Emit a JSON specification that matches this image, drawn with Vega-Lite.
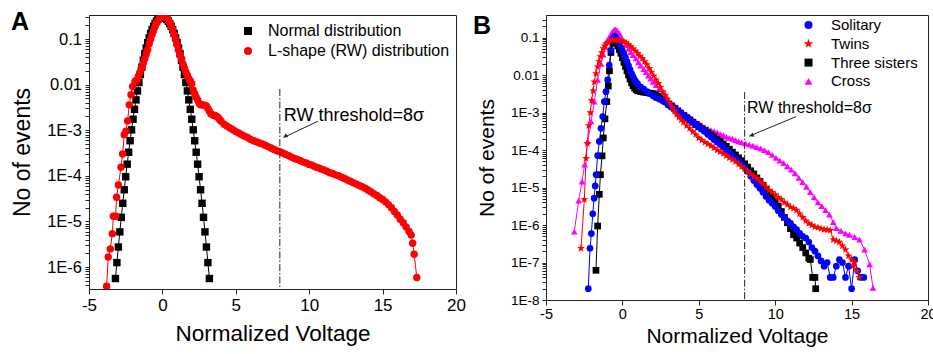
{
  "$schema": "https://vega.github.io/schema/vega-lite/v6.json",
  "background": "white",
  "padding": {"left": 10, "top": 8, "right": 0, "bottom": 0},
  "spacing": 6,
  "resolve": {"scale": {"color": "independent", "shape": "independent"}, "legend": {"color": "independent", "shape": "independent"}},
  "config": {
    "font": "Liberation Sans",
    "view": {"stroke": "#222", "strokeWidth": 1},
    "axis": {"domainColor": "#222", "tickColor": "#222", "labelColor": "black", "titleColor": "black", "titleFontWeight": "normal", "grid": false, "labelFont": "Liberation Sans", "titleFont": "Liberation Sans"},
    "legend": {"labelFont": "Liberation Sans", "labelColor": "black"},
    "text": {"font": "Liberation Sans"}
  },
  "datasets": {
    "a": [
      {"s":"Normal distribution","x":-3.2,"y":5.6e-7},{"s":"Normal distribution","x":-3.1,"y":1.25e-6},{"s":"Normal distribution","x":-3.0,"y":2.75e-6},{"s":"Normal distribution","x":-2.9,"y":5.9e-6},{"s":"Normal distribution","x":-2.8,"y":1.23e-5},{"s":"Normal distribution","x":-2.7,"y":2.5e-5},{"s":"Normal distribution","x":-2.6,"y":4.95e-5},{"s":"Normal distribution","x":-2.5,"y":9.55e-5},{"s":"Normal distribution","x":-2.4,"y":1.8e-4},{"s":"Normal distribution","x":-2.3,"y":3.29e-4},{"s":"Normal distribution","x":-2.2,"y":5.88e-4},{"s":"Normal distribution","x":-2.1,"y":1.02e-3},{"s":"Normal distribution","x":-2.0,"y":1.74e-3},{"s":"Normal distribution","x":-1.9,"y":2.87e-3},{"s":"Normal distribution","x":-1.8,"y":4.63e-3},{"s":"Normal distribution","x":-1.7,"y":7.27e-3},{"s":"Normal distribution","x":-1.6,"y":0.0111},{"s":"Normal distribution","x":-1.5,"y":0.0166},{"s":"Normal distribution","x":-1.4,"y":0.0241},{"s":"Normal distribution","x":-1.3,"y":0.0342},{"s":"Normal distribution","x":-1.2,"y":0.0472},{"s":"Normal distribution","x":-1.1,"y":0.0634},{"s":"Normal distribution","x":-1.0,"y":0.0832},{"s":"Normal distribution","x":-0.9,"y":0.106},{"s":"Normal distribution","x":-0.8,"y":0.132},{"s":"Normal distribution","x":-0.7,"y":0.161},{"s":"Normal distribution","x":-0.6,"y":0.19},{"s":"Normal distribution","x":-0.5,"y":0.219},{"s":"Normal distribution","x":-0.4,"y":0.246},{"s":"Normal distribution","x":-0.3,"y":0.269},{"s":"Normal distribution","x":-0.2,"y":0.287},{"s":"Normal distribution","x":-0.1,"y":0.298},{"s":"Normal distribution","x":0,"y":0.302},{"s":"Normal distribution","x":0.1,"y":0.298},{"s":"Normal distribution","x":0.2,"y":0.287},{"s":"Normal distribution","x":0.3,"y":0.269},{"s":"Normal distribution","x":0.4,"y":0.246},{"s":"Normal distribution","x":0.5,"y":0.219},{"s":"Normal distribution","x":0.6,"y":0.19},{"s":"Normal distribution","x":0.7,"y":0.161},{"s":"Normal distribution","x":0.8,"y":0.132},{"s":"Normal distribution","x":0.9,"y":0.106},{"s":"Normal distribution","x":1.0,"y":0.0832},{"s":"Normal distribution","x":1.1,"y":0.0634},{"s":"Normal distribution","x":1.2,"y":0.0472},{"s":"Normal distribution","x":1.3,"y":0.0342},{"s":"Normal distribution","x":1.4,"y":0.0241},{"s":"Normal distribution","x":1.5,"y":0.0166},{"s":"Normal distribution","x":1.6,"y":0.0111},{"s":"Normal distribution","x":1.7,"y":7.27e-3},{"s":"Normal distribution","x":1.8,"y":4.63e-3},{"s":"Normal distribution","x":1.9,"y":2.87e-3},{"s":"Normal distribution","x":2.0,"y":1.74e-3},{"s":"Normal distribution","x":2.1,"y":1.02e-3},{"s":"Normal distribution","x":2.2,"y":5.88e-4},{"s":"Normal distribution","x":2.3,"y":3.29e-4},{"s":"Normal distribution","x":2.4,"y":1.8e-4},{"s":"Normal distribution","x":2.5,"y":9.55e-5},{"s":"Normal distribution","x":2.6,"y":4.95e-5},{"s":"Normal distribution","x":2.7,"y":2.5e-5},{"s":"Normal distribution","x":2.8,"y":1.23e-5},{"s":"Normal distribution","x":2.9,"y":5.9e-6},{"s":"Normal distribution","x":3.0,"y":2.75e-6},{"s":"Normal distribution","x":3.1,"y":1.25e-6},{"s":"Normal distribution","x":3.2,"y":5.6e-7},
      {"s":"L-shape (RW) distribution","x":-3.8,"y":3.8e-7},{"s":"L-shape (RW) distribution","x":-3.69,"y":1.66e-6},{"s":"L-shape (RW) distribution","x":-3.55,"y":2.5e-6},{"s":"L-shape (RW) distribution","x":-3.41,"y":5.4e-6},{"s":"L-shape (RW) distribution","x":-3.34,"y":1.3e-5},{"s":"L-shape (RW) distribution","x":-3.19,"y":1.3e-5},{"s":"L-shape (RW) distribution","x":-3.12,"y":3.4e-5},{"s":"L-shape (RW) distribution","x":-3.0,"y":6.3e-5},{"s":"L-shape (RW) distribution","x":-2.82,"y":1.55e-4},{"s":"L-shape (RW) distribution","x":-2.71,"y":3.0e-4},{"s":"L-shape (RW) distribution","x":-2.6,"y":8.0e-4},{"s":"L-shape (RW) distribution","x":-2.48,"y":9.5e-4},{"s":"L-shape (RW) distribution","x":-2.37,"y":1.6e-3},{"s":"L-shape (RW) distribution","x":-2.26,"y":3.6e-3},{"s":"L-shape (RW) distribution","x":-2.14,"y":6.0e-3},{"s":"L-shape (RW) distribution","x":-2.03,"y":9.1e-3},{"s":"L-shape (RW) distribution","x":-1.87,"y":0.0118},{"s":"L-shape (RW) distribution","x":-1.75,"y":0.0125},{"s":"L-shape (RW) distribution","x":-1.64,"y":0.015},{"s":"L-shape (RW) distribution","x":-1.55,"y":0.018},{"s":"L-shape (RW) distribution","x":-1.46,"y":0.0214},{"s":"L-shape (RW) distribution","x":-1.38,"y":0.025},{"s":"L-shape (RW) distribution","x":-1.3,"y":0.0297},{"s":"L-shape (RW) distribution","x":-1.2,"y":0.037},{"s":"L-shape (RW) distribution","x":-1.1,"y":0.047},{"s":"L-shape (RW) distribution","x":-1.0,"y":0.058},{"s":"L-shape (RW) distribution","x":-0.9,"y":0.079},{"s":"L-shape (RW) distribution","x":-0.8,"y":0.099},{"s":"L-shape (RW) distribution","x":-0.7,"y":0.125},{"s":"L-shape (RW) distribution","x":-0.6,"y":0.152},{"s":"L-shape (RW) distribution","x":-0.5,"y":0.19},{"s":"L-shape (RW) distribution","x":-0.4,"y":0.225},{"s":"L-shape (RW) distribution","x":-0.3,"y":0.255},{"s":"L-shape (RW) distribution","x":-0.2,"y":0.283},{"s":"L-shape (RW) distribution","x":-0.1,"y":0.3},{"s":"L-shape (RW) distribution","x":0,"y":0.315},{"s":"L-shape (RW) distribution","x":0.1,"y":0.315},{"s":"L-shape (RW) distribution","x":0.2,"y":0.3},{"s":"L-shape (RW) distribution","x":0.3,"y":0.28},{"s":"L-shape (RW) distribution","x":0.4,"y":0.255},{"s":"L-shape (RW) distribution","x":0.5,"y":0.225},{"s":"L-shape (RW) distribution","x":0.6,"y":0.19},{"s":"L-shape (RW) distribution","x":0.7,"y":0.16},{"s":"L-shape (RW) distribution","x":0.8,"y":0.125},{"s":"L-shape (RW) distribution","x":0.9,"y":0.098},{"s":"L-shape (RW) distribution","x":1.0,"y":0.075},{"s":"L-shape (RW) distribution","x":1.1,"y":0.057},{"s":"L-shape (RW) distribution","x":1.2,"y":0.045},{"s":"L-shape (RW) distribution","x":1.3,"y":0.035},{"s":"L-shape (RW) distribution","x":1.4,"y":0.028},{"s":"L-shape (RW) distribution","x":1.5,"y":0.023},{"s":"L-shape (RW) distribution","x":1.6,"y":0.019},{"s":"L-shape (RW) distribution","x":1.7,"y":0.016},{"s":"L-shape (RW) distribution","x":1.8,"y":0.0135},{"s":"L-shape (RW) distribution","x":1.9,"y":0.012},{"s":"L-shape (RW) distribution","x":2.0,"y":0.0105},{"s":"L-shape (RW) distribution","x":2.1,"y":0.0075},{"s":"L-shape (RW) distribution","x":2.2,"y":0.0063},{"s":"L-shape (RW) distribution","x":2.3,"y":0.0053},{"s":"L-shape (RW) distribution","x":2.4,"y":0.0046},{"s":"L-shape (RW) distribution","x":2.5,"y":0.0039},{"s":"L-shape (RW) distribution","x":2.6,"y":0.0036},{"s":"L-shape (RW) distribution","x":2.7,"y":0.0036},{"s":"L-shape (RW) distribution","x":2.8,"y":0.0036},{"s":"L-shape (RW) distribution","x":2.9,"y":0.0035},{"s":"L-shape (RW) distribution","x":3.0,"y":0.0034},{"s":"L-shape (RW) distribution","x":3.1,"y":0.003},{"s":"L-shape (RW) distribution","x":3.2,"y":0.0026},{"s":"L-shape (RW) distribution","x":3.3,"y":0.0023},{"s":"L-shape (RW) distribution","x":3.4,"y":0.0022},{"s":"L-shape (RW) distribution","x":3.5,"y":0.0021},{"s":"L-shape (RW) distribution","x":3.6,"y":0.0021},{"s":"L-shape (RW) distribution","x":3.7,"y":0.002},{"s":"L-shape (RW) distribution","x":3.8,"y":0.0019},{"s":"L-shape (RW) distribution","x":3.9,"y":0.0017},{"s":"L-shape (RW) distribution","x":4.0,"y":0.00158},{"s":"L-shape (RW) distribution","x":4.2,"y":0.00135},{"s":"L-shape (RW) distribution","x":4.4,"y":0.00123},{"s":"L-shape (RW) distribution","x":4.6,"y":0.00112},{"s":"L-shape (RW) distribution","x":4.8,"y":0.00102},{"s":"L-shape (RW) distribution","x":5.0,"y":9.33e-4},{"s":"L-shape (RW) distribution","x":5.2,"y":8.71e-4},{"s":"L-shape (RW) distribution","x":5.4,"y":7.94e-4},{"s":"L-shape (RW) distribution","x":5.6,"y":7.41e-4},{"s":"L-shape (RW) distribution","x":5.8,"y":6.92e-4},{"s":"L-shape (RW) distribution","x":6.0,"y":6.31e-4},{"s":"L-shape (RW) distribution","x":6.2,"y":5.89e-4},{"s":"L-shape (RW) distribution","x":6.4,"y":5.62e-4},{"s":"L-shape (RW) distribution","x":6.6,"y":5.25e-4},{"s":"L-shape (RW) distribution","x":6.8,"y":5.01e-4},{"s":"L-shape (RW) distribution","x":7.0,"y":4.68e-4},{"s":"L-shape (RW) distribution","x":7.2,"y":4.37e-4},{"s":"L-shape (RW) distribution","x":7.4,"y":4.07e-4},{"s":"L-shape (RW) distribution","x":7.6,"y":3.8e-4},{"s":"L-shape (RW) distribution","x":7.8,"y":3.55e-4},{"s":"L-shape (RW) distribution","x":8.0,"y":3.39e-4},{"s":"L-shape (RW) distribution","x":8.2,"y":3.16e-4},{"s":"L-shape (RW) distribution","x":8.4,"y":2.95e-4},{"s":"L-shape (RW) distribution","x":8.6,"y":2.75e-4},{"s":"L-shape (RW) distribution","x":8.8,"y":2.57e-4},{"s":"L-shape (RW) distribution","x":9.0,"y":2.4e-4},{"s":"L-shape (RW) distribution","x":9.2,"y":2.29e-4},{"s":"L-shape (RW) distribution","x":9.4,"y":2.14e-4},{"s":"L-shape (RW) distribution","x":9.6,"y":2.0e-4},{"s":"L-shape (RW) distribution","x":9.8,"y":1.91e-4},{"s":"L-shape (RW) distribution","x":10.0,"y":1.78e-4},{"s":"L-shape (RW) distribution","x":10.2,"y":1.7e-4},{"s":"L-shape (RW) distribution","x":10.4,"y":1.58e-4},{"s":"L-shape (RW) distribution","x":10.6,"y":1.51e-4},{"s":"L-shape (RW) distribution","x":10.8,"y":1.41e-4},{"s":"L-shape (RW) distribution","x":11.0,"y":1.35e-4},{"s":"L-shape (RW) distribution","x":11.2,"y":1.26e-4},{"s":"L-shape (RW) distribution","x":11.4,"y":1.17e-4},{"s":"L-shape (RW) distribution","x":11.6,"y":1.12e-4},{"s":"L-shape (RW) distribution","x":11.8,"y":1.05e-4},{"s":"L-shape (RW) distribution","x":12.0,"y":1.0e-4},{"s":"L-shape (RW) distribution","x":12.2,"y":9.33e-5},{"s":"L-shape (RW) distribution","x":12.4,"y":8.71e-5},{"s":"L-shape (RW) distribution","x":12.6,"y":8.13e-5},{"s":"L-shape (RW) distribution","x":12.8,"y":7.59e-5},{"s":"L-shape (RW) distribution","x":13.0,"y":7.08e-5},{"s":"L-shape (RW) distribution","x":13.2,"y":6.61e-5},{"s":"L-shape (RW) distribution","x":13.4,"y":6.17e-5},{"s":"L-shape (RW) distribution","x":13.6,"y":5.75e-5},{"s":"L-shape (RW) distribution","x":13.8,"y":5.37e-5},{"s":"L-shape (RW) distribution","x":14.0,"y":4.9e-5},{"s":"L-shape (RW) distribution","x":14.2,"y":4.47e-5},{"s":"L-shape (RW) distribution","x":14.4,"y":4.07e-5},{"s":"L-shape (RW) distribution","x":14.6,"y":3.72e-5},{"s":"L-shape (RW) distribution","x":14.8,"y":3.31e-5},{"s":"L-shape (RW) distribution","x":15.0,"y":3.02e-5},{"s":"L-shape (RW) distribution","x":15.2,"y":2.69e-5},{"s":"L-shape (RW) distribution","x":15.4,"y":2.34e-5},{"s":"L-shape (RW) distribution","x":15.6,"y":2.0e-5},{"s":"L-shape (RW) distribution","x":15.8,"y":1.66e-5},{"s":"L-shape (RW) distribution","x":16.0,"y":1.38e-5},{"s":"L-shape (RW) distribution","x":16.2,"y":1.12e-5},{"s":"L-shape (RW) distribution","x":16.4,"y":9.33e-6},{"s":"L-shape (RW) distribution","x":16.6,"y":7.59e-6},{"s":"L-shape (RW) distribution","x":16.8,"y":6.03e-6},{"s":"L-shape (RW) distribution","x":16.95,"y":5.01e-6},{"s":"L-shape (RW) distribution","x":17.05,"y":3.31e-6},{"s":"L-shape (RW) distribution","x":17.15,"y":1.91e-6},{"s":"L-shape (RW) distribution","x":17.33,"y":5.89e-7}
    ],
    "b": [
      {"s":"Cross","x":-3.15,"y":6.7e-7},{"s":"Cross","x":-2.86,"y":4.5e-6},{"s":"Cross","x":-2.64,"y":1.45e-5},{"s":"Cross","x":-2.47,"y":4.1e-5},{"s":"Cross","x":-2.27,"y":1.7e-4},{"s":"Cross","x":-2.05,"y":5.8e-4},{"s":"Cross","x":-1.84,"y":1.95e-3},{"s":"Cross","x":-1.62,"y":7.4e-3},{"s":"Cross","x":-1.4,"y":0.02},{"s":"Cross","x":-1.25,"y":0.035},{"s":"Cross","x":-1.12,"y":0.057},{"s":"Cross","x":-1.0,"y":0.078},{"s":"Cross","x":-0.85,"y":0.105},{"s":"Cross","x":-0.7,"y":0.135},{"s":"Cross","x":-0.55,"y":0.16},{"s":"Cross","x":-0.45,"y":0.165},{"s":"Cross","x":-0.35,"y":0.155},{"s":"Cross","x":-0.2,"y":0.13},{"s":"Cross","x":-0.05,"y":0.1},{"s":"Cross","x":0.1,"y":0.08},{"s":"Cross","x":0.24,"y":0.063},{"s":"Cross","x":0.4,"y":0.05},{"s":"Cross","x":0.55,"y":0.041},{"s":"Cross","x":0.7,"y":0.034},{"s":"Cross","x":0.89,"y":0.028},{"s":"Cross","x":1.05,"y":0.022},{"s":"Cross","x":1.2,"y":0.018},{"s":"Cross","x":1.4,"y":0.0145},{"s":"Cross","x":1.55,"y":0.012},{"s":"Cross","x":1.7,"y":0.0097},{"s":"Cross","x":1.85,"y":0.008},{"s":"Cross","x":2.0,"y":0.0066},{"s":"Cross","x":2.2,"y":0.0054},{"s":"Cross","x":2.4,"y":0.0043},{"s":"Cross","x":2.6,"y":0.0034},{"s":"Cross","x":2.86,"y":0.0025},{"s":"Cross","x":3.0,"y":0.0021},{"s":"Cross","x":3.2,"y":0.0018},{"s":"Cross","x":3.4,"y":0.0016},{"s":"Cross","x":3.6,"y":0.0014},{"s":"Cross","x":3.8,"y":0.0012},{"s":"Cross","x":3.95,"y":0.00105},{"s":"Cross","x":4.2,"y":9e-4},{"s":"Cross","x":4.4,"y":7.8e-4},{"s":"Cross","x":4.6,"y":6.8e-4},{"s":"Cross","x":4.8,"y":5.9e-4},{"s":"Cross","x":5.04,"y":5.1e-4},{"s":"Cross","x":5.2,"y":4.6e-4},{"s":"Cross","x":5.4,"y":4.1e-4},{"s":"Cross","x":5.6,"y":3.7e-4},{"s":"Cross","x":5.8,"y":3.4e-4},{"s":"Cross","x":6.0,"y":3.2e-4},{"s":"Cross","x":6.2,"y":2.95e-4},{"s":"Cross","x":6.4,"y":2.7e-4},{"s":"Cross","x":6.6,"y":2.5e-4},{"s":"Cross","x":6.8,"y":2.25e-4},{"s":"Cross","x":7.0,"y":2.1e-4},{"s":"Cross","x":7.2,"y":2.0e-4},{"s":"Cross","x":7.4,"y":1.85e-4},{"s":"Cross","x":7.6,"y":1.7e-4},{"s":"Cross","x":7.8,"y":1.6e-4},{"s":"Cross","x":8.05,"y":1.5e-4},{"s":"Cross","x":8.3,"y":1.4e-4},{"s":"Cross","x":8.55,"y":1.3e-4},{"s":"Cross","x":8.8,"y":1.2e-4},{"s":"Cross","x":9.05,"y":1.1e-4},{"s":"Cross","x":9.3,"y":1.0e-4},{"s":"Cross","x":9.55,"y":8.8e-5},{"s":"Cross","x":9.8,"y":7.4e-5},{"s":"Cross","x":10.05,"y":6.2e-5},{"s":"Cross","x":10.3,"y":5.2e-5},{"s":"Cross","x":10.55,"y":4.5e-5},{"s":"Cross","x":10.8,"y":3.7e-5},{"s":"Cross","x":11.05,"y":3.0e-5},{"s":"Cross","x":11.3,"y":2.4e-5},{"s":"Cross","x":11.55,"y":1.8e-5},{"s":"Cross","x":11.8,"y":1.4e-5},{"s":"Cross","x":12.05,"y":1.05e-5},{"s":"Cross","x":12.3,"y":7.5e-6},{"s":"Cross","x":12.55,"y":5.5e-6},{"s":"Cross","x":12.8,"y":4.0e-6},{"s":"Cross","x":13.05,"y":3.2e-6},{"s":"Cross","x":13.3,"y":2.5e-6},{"s":"Cross","x":13.55,"y":1.9e-6},{"s":"Cross","x":13.8,"y":1.2e-6},{"s":"Cross","x":14.0,"y":8.3e-7},{"s":"Cross","x":14.3,"y":7.0e-7},{"s":"Cross","x":14.6,"y":6.0e-7},{"s":"Cross","x":14.86,"y":5.5e-7},{"s":"Cross","x":15.2,"y":4.8e-7},{"s":"Cross","x":15.52,"y":4.1e-7},{"s":"Cross","x":15.85,"y":2.2e-7},{"s":"Cross","x":16.18,"y":8.9e-8},{"s":"Cross","x":16.4,"y":2.1e-8},
      {"s":"Three sisters","x":-1.73,"y":6.2e-8},{"s":"Three sisters","x":-1.62,"y":9.4e-7},{"s":"Three sisters","x":-1.51,"y":6.6e-6},{"s":"Three sisters","x":-1.44,"y":2.2e-5},{"s":"Three sisters","x":-1.33,"y":7.0e-5},{"s":"Three sisters","x":-1.25,"y":2.1e-4},{"s":"Three sisters","x":-1.14,"y":6.8e-4},{"s":"Three sisters","x":-1.02,"y":1.95e-3},{"s":"Three sisters","x":-0.92,"y":5.1e-3},{"s":"Three sisters","x":-0.85,"y":0.013},{"s":"Three sisters","x":-0.75,"y":0.04},{"s":"Three sisters","x":-0.62,"y":0.07},{"s":"Three sisters","x":-0.5,"y":0.08},{"s":"Three sisters","x":-0.4,"y":0.072},{"s":"Three sisters","x":-0.3,"y":0.06},{"s":"Three sisters","x":-0.2,"y":0.048},{"s":"Three sisters","x":-0.1,"y":0.038},{"s":"Three sisters","x":0.0,"y":0.029},{"s":"Three sisters","x":0.1,"y":0.022},{"s":"Three sisters","x":0.2,"y":0.017},{"s":"Three sisters","x":0.3,"y":0.013},{"s":"Three sisters","x":0.4,"y":0.01},{"s":"Three sisters","x":0.5,"y":0.0078},{"s":"Three sisters","x":0.6,"y":0.0062},{"s":"Three sisters","x":0.7,"y":0.0052},{"s":"Three sisters","x":0.8,"y":0.0045},{"s":"Three sisters","x":0.9,"y":0.0041},{"s":"Three sisters","x":1.0,"y":0.0038},{"s":"Three sisters","x":1.2,"y":0.0036},{"s":"Three sisters","x":1.4,"y":0.0035},{"s":"Three sisters","x":1.6,"y":0.0034},{"s":"Three sisters","x":1.8,"y":0.0033},{"s":"Three sisters","x":2.0,"y":0.0032},{"s":"Three sisters","x":2.2,"y":0.003},{"s":"Three sisters","x":2.4,"y":0.0027},{"s":"Three sisters","x":2.6,"y":0.0023},{"s":"Three sisters","x":2.8,"y":0.002},{"s":"Three sisters","x":3.0,"y":0.0017},{"s":"Three sisters","x":3.2,"y":0.0015},{"s":"Three sisters","x":3.4,"y":0.0013},{"s":"Three sisters","x":3.6,"y":0.0011},{"s":"Three sisters","x":3.8,"y":9.5e-4},{"s":"Three sisters","x":4.0,"y":8.3e-4},{"s":"Three sisters","x":4.2,"y":7.2e-4},{"s":"Three sisters","x":4.4,"y":6.3e-4},{"s":"Three sisters","x":4.6,"y":5.5e-4},{"s":"Three sisters","x":4.8,"y":4.8e-4},{"s":"Three sisters","x":5.0,"y":4.2e-4},{"s":"Three sisters","x":5.2,"y":3.7e-4},{"s":"Three sisters","x":5.4,"y":3.3e-4},{"s":"Three sisters","x":5.6,"y":2.9e-4},{"s":"Three sisters","x":5.8,"y":2.55e-4},{"s":"Three sisters","x":6.0,"y":2.25e-4},{"s":"Three sisters","x":6.2,"y":1.95e-4},{"s":"Three sisters","x":6.4,"y":1.7e-4},{"s":"Three sisters","x":6.6,"y":1.45e-4},{"s":"Three sisters","x":6.8,"y":1.25e-4},{"s":"Three sisters","x":7.0,"y":1.05e-4},{"s":"Three sisters","x":7.2,"y":8.8e-5},{"s":"Three sisters","x":7.4,"y":7.4e-5},{"s":"Three sisters","x":7.6,"y":6.2e-5},{"s":"Three sisters","x":7.8,"y":5.2e-5},{"s":"Three sisters","x":8.0,"y":4.3e-5},{"s":"Three sisters","x":8.2,"y":3.5e-5},{"s":"Three sisters","x":8.4,"y":2.8e-5},{"s":"Three sisters","x":8.6,"y":2.3e-5},{"s":"Three sisters","x":8.8,"y":1.8e-5},{"s":"Three sisters","x":9.0,"y":1.45e-5},{"s":"Three sisters","x":9.2,"y":1.15e-5},{"s":"Three sisters","x":9.4,"y":9.0e-6},{"s":"Three sisters","x":9.6,"y":7.0e-6},{"s":"Three sisters","x":9.8,"y":5.5e-6},{"s":"Three sisters","x":10.0,"y":4.2e-6},{"s":"Three sisters","x":10.2,"y":3.2e-6},{"s":"Three sisters","x":10.4,"y":2.3e-6},{"s":"Three sisters","x":10.6,"y":1.6e-6},{"s":"Three sisters","x":10.8,"y":1.15e-6},{"s":"Three sisters","x":11.0,"y":8.0e-7},{"s":"Three sisters","x":11.2,"y":5.5e-7},{"s":"Three sisters","x":11.4,"y":4.5e-7},{"s":"Three sisters","x":11.6,"y":3.3e-7},{"s":"Three sisters","x":11.8,"y":2.5e-7},{"s":"Three sisters","x":12.0,"y":1.8e-7},{"s":"Three sisters","x":12.2,"y":1.3e-7},{"s":"Three sisters","x":12.3,"y":1.2e-7},{"s":"Three sisters","x":12.45,"y":4.0e-8},{"s":"Three sisters","x":12.6,"y":4.0e-8},{"s":"Three sisters","x":12.65,"y":2.0e-8},
      {"s":"Solitary","x":-2.23,"y":2.0e-8},{"s":"Solitary","x":-2.12,"y":2.4e-7},{"s":"Solitary","x":-2.03,"y":5.9e-7},{"s":"Solitary","x":-1.94,"y":2.0e-6},{"s":"Solitary","x":-1.85,"y":5.2e-6},{"s":"Solitary","x":-1.78,"y":1.1e-5},{"s":"Solitary","x":-1.72,"y":2.2e-5},{"s":"Solitary","x":-1.62,"y":7.1e-5},{"s":"Solitary","x":-1.51,"y":1.7e-4},{"s":"Solitary","x":-1.4,"y":3.8e-4},{"s":"Solitary","x":-1.29,"y":7.8e-4},{"s":"Solitary","x":-1.18,"y":1.95e-3},{"s":"Solitary","x":-1.07,"y":3.6e-3},{"s":"Solitary","x":-0.96,"y":7.4e-3},{"s":"Solitary","x":-0.86,"y":0.0185},{"s":"Solitary","x":-0.75,"y":0.046},{"s":"Solitary","x":-0.64,"y":0.094},{"s":"Solitary","x":-0.5,"y":0.11},{"s":"Solitary","x":-0.4,"y":0.1},{"s":"Solitary","x":-0.3,"y":0.085},{"s":"Solitary","x":-0.2,"y":0.07},{"s":"Solitary","x":-0.1,"y":0.055},{"s":"Solitary","x":0.0,"y":0.045},{"s":"Solitary","x":0.1,"y":0.036},{"s":"Solitary","x":0.2,"y":0.029},{"s":"Solitary","x":0.3,"y":0.023},{"s":"Solitary","x":0.4,"y":0.018},{"s":"Solitary","x":0.5,"y":0.014},{"s":"Solitary","x":0.6,"y":0.011},{"s":"Solitary","x":0.7,"y":0.009},{"s":"Solitary","x":0.8,"y":0.0075},{"s":"Solitary","x":0.9,"y":0.0065},{"s":"Solitary","x":1.0,"y":0.0058},{"s":"Solitary","x":1.2,"y":0.0048},{"s":"Solitary","x":1.4,"y":0.0042},{"s":"Solitary","x":1.6,"y":0.0036},{"s":"Solitary","x":1.8,"y":0.0032},{"s":"Solitary","x":2.0,"y":0.0028},{"s":"Solitary","x":2.2,"y":0.0025},{"s":"Solitary","x":2.4,"y":0.0023},{"s":"Solitary","x":2.6,"y":0.0021},{"s":"Solitary","x":2.8,"y":0.0019},{"s":"Solitary","x":3.0,"y":0.0016},{"s":"Solitary","x":3.2,"y":0.0014},{"s":"Solitary","x":3.4,"y":0.00125},{"s":"Solitary","x":3.6,"y":0.0011},{"s":"Solitary","x":3.8,"y":9.6e-4},{"s":"Solitary","x":4.0,"y":8.5e-4},{"s":"Solitary","x":4.2,"y":7.5e-4},{"s":"Solitary","x":4.4,"y":6.5e-4},{"s":"Solitary","x":4.6,"y":5.6e-4},{"s":"Solitary","x":4.8,"y":4.8e-4},{"s":"Solitary","x":5.0,"y":4.1e-4},{"s":"Solitary","x":5.2,"y":3.6e-4},{"s":"Solitary","x":5.4,"y":3.1e-4},{"s":"Solitary","x":5.6,"y":2.6e-4},{"s":"Solitary","x":5.8,"y":2.25e-4},{"s":"Solitary","x":6.0,"y":1.9e-4},{"s":"Solitary","x":6.2,"y":1.65e-4},{"s":"Solitary","x":6.4,"y":1.4e-4},{"s":"Solitary","x":6.6,"y":1.2e-4},{"s":"Solitary","x":6.8,"y":1.0e-4},{"s":"Solitary","x":7.0,"y":8.5e-5},{"s":"Solitary","x":7.2,"y":7.2e-5},{"s":"Solitary","x":7.4,"y":6.0e-5},{"s":"Solitary","x":7.6,"y":5.0e-5},{"s":"Solitary","x":7.8,"y":4.2e-5},{"s":"Solitary","x":8.0,"y":3.5e-5},{"s":"Solitary","x":8.2,"y":2.7e-5},{"s":"Solitary","x":8.4,"y":2.0e-5},{"s":"Solitary","x":8.6,"y":1.55e-5},{"s":"Solitary","x":8.8,"y":1.2e-5},{"s":"Solitary","x":9.0,"y":9.5e-6},{"s":"Solitary","x":9.2,"y":7.5e-6},{"s":"Solitary","x":9.4,"y":5.8e-6},{"s":"Solitary","x":9.6,"y":4.6e-6},{"s":"Solitary","x":9.8,"y":3.8e-6},{"s":"Solitary","x":10.0,"y":3.1e-6},{"s":"Solitary","x":10.2,"y":2.4e-6},{"s":"Solitary","x":10.4,"y":1.9e-6},{"s":"Solitary","x":10.6,"y":1.6e-6},{"s":"Solitary","x":10.8,"y":1.3e-6},{"s":"Solitary","x":11.0,"y":1.1e-6},{"s":"Solitary","x":11.2,"y":9.0e-7},{"s":"Solitary","x":11.4,"y":7.5e-7},{"s":"Solitary","x":11.6,"y":6.0e-7},{"s":"Solitary","x":11.8,"y":5.0e-7},{"s":"Solitary","x":12.0,"y":4.5e-7},{"s":"Solitary","x":12.2,"y":3.5e-7},{"s":"Solitary","x":12.4,"y":2.5e-7},{"s":"Solitary","x":12.6,"y":2.0e-7},{"s":"Solitary","x":12.8,"y":1.5e-7},{"s":"Solitary","x":13.0,"y":1.1e-7},{"s":"Solitary","x":13.2,"y":8.0e-8},{"s":"Solitary","x":13.4,"y":1.0e-7},{"s":"Solitary","x":13.6,"y":4.0e-8},{"s":"Solitary","x":13.8,"y":4.0e-8},{"s":"Solitary","x":14.0,"y":8.0e-8},{"s":"Solitary","x":14.2,"y":1.2e-7},{"s":"Solitary","x":14.4,"y":1.0e-7},{"s":"Solitary","x":14.6,"y":4.0e-8},{"s":"Solitary","x":14.8,"y":8.0e-8},{"s":"Solitary","x":15.0,"y":2.0e-8},{"s":"Solitary","x":15.2,"y":1.2e-7},{"s":"Solitary","x":15.4,"y":6.0e-8},{"s":"Solitary","x":15.6,"y":4.0e-8},{"s":"Solitary","x":15.8,"y":4.0e-8},
      {"s":"Twins","x":-2.71,"y":2.4e-7},{"s":"Twins","x":-2.49,"y":4.8e-6},{"s":"Twins","x":-2.38,"y":6.0e-5},{"s":"Twins","x":-2.29,"y":1.5e-4},{"s":"Twins","x":-2.2,"y":4.5e-4},{"s":"Twins","x":-2.1,"y":1.0e-3},{"s":"Twins","x":-2.01,"y":2.1e-3},{"s":"Twins","x":-1.92,"y":3.8e-3},{"s":"Twins","x":-1.84,"y":6.6e-3},{"s":"Twins","x":-1.73,"y":0.011},{"s":"Twins","x":-1.62,"y":0.0166},{"s":"Twins","x":-1.53,"y":0.023},{"s":"Twins","x":-1.44,"y":0.031},{"s":"Twins","x":-1.35,"y":0.04},{"s":"Twins","x":-1.25,"y":0.051},{"s":"Twins","x":-1.16,"y":0.06},{"s":"Twins","x":-1.07,"y":0.069},{"s":"Twins","x":-0.95,"y":0.076},{"s":"Twins","x":-0.8,"y":0.082},{"s":"Twins","x":-0.65,"y":0.085},{"s":"Twins","x":-0.5,"y":0.086},{"s":"Twins","x":-0.35,"y":0.086},{"s":"Twins","x":-0.2,"y":0.084},{"s":"Twins","x":-0.05,"y":0.081},{"s":"Twins","x":0.1,"y":0.077},{"s":"Twins","x":0.25,"y":0.072},{"s":"Twins","x":0.4,"y":0.065},{"s":"Twins","x":0.55,"y":0.057},{"s":"Twins","x":0.7,"y":0.05},{"s":"Twins","x":0.85,"y":0.044},{"s":"Twins","x":1.0,"y":0.038},{"s":"Twins","x":1.15,"y":0.032},{"s":"Twins","x":1.3,"y":0.028},{"s":"Twins","x":1.45,"y":0.023},{"s":"Twins","x":1.6,"y":0.019},{"s":"Twins","x":1.75,"y":0.015},{"s":"Twins","x":1.9,"y":0.012},{"s":"Twins","x":2.05,"y":0.0095},{"s":"Twins","x":2.2,"y":0.0075},{"s":"Twins","x":2.35,"y":0.006},{"s":"Twins","x":2.5,"y":0.0047},{"s":"Twins","x":2.65,"y":0.0036},{"s":"Twins","x":2.8,"y":0.0029},{"s":"Twins","x":2.95,"y":0.0023},{"s":"Twins","x":3.1,"y":0.0018},{"s":"Twins","x":3.25,"y":0.0014},{"s":"Twins","x":3.4,"y":0.0011},{"s":"Twins","x":3.55,"y":9.0e-4},{"s":"Twins","x":3.7,"y":7.6e-4},{"s":"Twins","x":3.85,"y":6.4e-4},{"s":"Twins","x":4.0,"y":5.5e-4},{"s":"Twins","x":4.2,"y":4.5e-4},{"s":"Twins","x":4.4,"y":3.8e-4},{"s":"Twins","x":4.6,"y":3.1e-4},{"s":"Twins","x":4.8,"y":2.6e-4},{"s":"Twins","x":5.0,"y":2.1e-4},{"s":"Twins","x":5.2,"y":1.85e-4},{"s":"Twins","x":5.4,"y":1.6e-4},{"s":"Twins","x":5.6,"y":1.45e-4},{"s":"Twins","x":5.8,"y":1.3e-4},{"s":"Twins","x":6.0,"y":1.15e-4},{"s":"Twins","x":6.2,"y":1.0e-4},{"s":"Twins","x":6.4,"y":9.0e-5},{"s":"Twins","x":6.6,"y":8.0e-5},{"s":"Twins","x":6.8,"y":7.0e-5},{"s":"Twins","x":7.0,"y":6.2e-5},{"s":"Twins","x":7.2,"y":5.6e-5},{"s":"Twins","x":7.4,"y":4.9e-5},{"s":"Twins","x":7.6,"y":4.2e-5},{"s":"Twins","x":7.8,"y":3.6e-5},{"s":"Twins","x":8.0,"y":3.1e-5},{"s":"Twins","x":8.2,"y":2.7e-5},{"s":"Twins","x":8.4,"y":2.3e-5},{"s":"Twins","x":8.6,"y":2.0e-5},{"s":"Twins","x":8.8,"y":1.75e-5},{"s":"Twins","x":9.0,"y":1.5e-5},{"s":"Twins","x":9.2,"y":1.25e-5},{"s":"Twins","x":9.4,"y":1.05e-5},{"s":"Twins","x":9.6,"y":8.5e-6},{"s":"Twins","x":9.8,"y":7.5e-6},{"s":"Twins","x":10.0,"y":6.5e-6},{"s":"Twins","x":10.2,"y":5.5e-6},{"s":"Twins","x":10.4,"y":4.8e-6},{"s":"Twins","x":10.6,"y":4.0e-6},{"s":"Twins","x":10.8,"y":3.5e-6},{"s":"Twins","x":11.0,"y":3.0e-6},{"s":"Twins","x":11.2,"y":2.8e-6},{"s":"Twins","x":11.4,"y":2.5e-6},{"s":"Twins","x":11.6,"y":2.0e-6},{"s":"Twins","x":11.8,"y":1.6e-6},{"s":"Twins","x":12.0,"y":1.3e-6},{"s":"Twins","x":12.2,"y":1.1e-6},{"s":"Twins","x":12.4,"y":1.0e-6},{"s":"Twins","x":12.6,"y":9.0e-7},{"s":"Twins","x":12.8,"y":8.5e-7},{"s":"Twins","x":13.0,"y":8.0e-7},{"s":"Twins","x":13.2,"y":7.6e-7},{"s":"Twins","x":13.4,"y":7.5e-7},{"s":"Twins","x":13.6,"y":7.2e-7},{"s":"Twins","x":13.8,"y":4.1e-7},{"s":"Twins","x":14.0,"y":3.8e-7},{"s":"Twins","x":14.2,"y":3.5e-7},{"s":"Twins","x":14.4,"y":2.8e-7},{"s":"Twins","x":14.6,"y":2.2e-7},{"s":"Twins","x":14.8,"y":1.5e-7},{"s":"Twins","x":15.0,"y":1.2e-7},{"s":"Twins","x":15.1,"y":8.0e-8},{"s":"Twins","x":15.2,"y":1.0e-7},{"s":"Twins","x":15.35,"y":6.0e-8},{"s":"Twins","x":15.5,"y":4.0e-8}
    ]
  },
  "hconcat": [
    {
      "width": 367,
      "height": 274,
      "encoding": {
        "x": {"field": "x", "type": "quantitative", "scale": {"domain": [-5, 20], "nice": false, "zero": false},
          "axis": {"title": "Normalized Voltage", "titleFontSize": 22.5, "titlePadding": 9, "labelFontSize": 17, "labelPadding": 3, "tickSize": 5, "values": [-5, 0, 5, 10, 15, 20], "labelExpr": "'' + datum.value", "labelFlush": false, "labelOverlap": false}},
        "y": {"field": "y", "type": "quantitative", "scale": {"type": "log", "domain": [3.3e-7, 0.336], "nice": false},
          "axis": {"title": "No of events", "titleFontSize": 23, "titlePadding": 12, "labelFontSize": 16.5, "labelPadding": 3.5, "tickSize": 4, "labelOverlap": false, "labelFlush": false,
            "values": [4e-7, 5e-7, 6e-7, 7e-7, 8e-7, 9e-7, 1e-6, 2e-6, 3e-6, 4e-6, 5e-6, 6e-6, 7e-6, 8e-6, 9e-6, 1e-5, 2e-5, 3e-5, 4e-5, 5e-5, 6e-5, 7e-5, 8e-5, 9e-5, 1e-4, 2e-4, 3e-4, 4e-4, 5e-4, 6e-4, 7e-4, 8e-4, 9e-4, 0.001, 0.002, 0.003, 0.004, 0.005, 0.006, 0.007, 0.008, 0.009, 0.01, 0.02, 0.03, 0.04, 0.05, 0.06, 0.07, 0.08, 0.09, 0.1, 0.2, 0.3],
            "labelExpr": "abs(log(datum.value)/LN10 - round(log(datum.value)/LN10)) > 0.01 ? '' : (round(log(datum.value)/LN10) == -1 ? '0.1' : (round(log(datum.value)/LN10) == -2 ? '0.01' : '1E' + round(log(datum.value)/LN10)))"}}
      },
      "layer": [
        {
          "data": {"name": "a"},
          "transform": [{"filter": "datum.s === 'Normal distribution'"}],
          "mark": {"type": "line", "strokeWidth": 1, "color": "black", "clip": true}
        },
        {
          "data": {"name": "a"},
          "transform": [{"filter": "datum.s === 'L-shape (RW) distribution'"}],
          "mark": {"type": "line", "strokeWidth": 1, "color": "red", "clip": true}
        },
        {
          "data": {"name": "a"},
          "mark": {"type": "point", "filled": true, "opacity": 1, "size": 55, "clip": true},
          "encoding": {
            "color": {"field": "s", "type": "nominal", "scale": {"domain": ["Normal distribution", "L-shape (RW) distribution"], "range": ["black", "red"]},
              "legend": {"title": null, "orient": "none", "legendX": 151, "legendY": 8, "labelFontSize": 16, "labelLimit": 0, "symbolSize": 64, "labelOffset": 12, "rowPadding": 4}},
            "shape": {"field": "s", "type": "nominal", "scale": {"domain": ["Normal distribution", "L-shape (RW) distribution"], "range": ["square", "circle"]},
              "legend": {"title": null, "orient": "none", "legendX": 151, "legendY": 8, "labelFontSize": 16, "labelLimit": 0, "symbolSize": 64, "labelOffset": 12, "rowPadding": 4}}
          }
        },
        {
          "data": {"values": [{"x": 8, "y": 0.008, "y2": 3.3e-7}]},
          "mark": {"type": "rule", "color": "#222", "strokeWidth": 1, "strokeDash": [7, 2, 1.5, 2]},
          "encoding": {"y2": {"field": "y2"}}
        },
        {
          "data": {"values": [{"x": 8.27, "y": 1.62e-3, "t": "RW threshold=8σ"}]},
          "mark": {"type": "text", "align": "left", "baseline": "alphabetic", "fontSize": 18, "color": "black"},
          "encoding": {"text": {"field": "t"}}
        },
        {
          "data": {"values": [{"x": -10.31, "y": 0.157, "t": "A"}]},
          "mark": {"type": "text", "align": "left", "baseline": "alphabetic", "fontSize": 25, "fontWeight": "bold", "color": "black", "clip": false},
          "encoding": {"text": {"field": "t"}}
        },
        {
          "data": {"values": [{"x": 10.6, "y": 1.58e-3, "x2": 8.25, "y2": 6.9e-4}]},
          "mark": {"type": "rule", "color": "#222", "strokeWidth": 1},
          "encoding": {"x2": {"field": "x2"}, "y2": {"field": "y2"}}
        },
        {
          "data": {"values": [{"x": 8.37, "y": 7.35e-4}]},
          "mark": {"type": "point", "shape": "triangle-up", "angle": 239, "size": 22, "filled": true, "color": "#222", "opacity": 1}
        }
      ]
    },
    {
      "width": 382,
      "height": 285,
      "encoding": {
        "x": {"field": "x", "type": "quantitative", "scale": {"domain": [-5, 20], "nice": false, "zero": false},
          "axis": {"title": "Normalized Voltage", "titleFontSize": 21, "titlePadding": 4, "labelFontSize": 14.5, "labelPadding": 2.5, "tickSize": 5, "values": [-5, 0, 5, 10, 15, 20], "labelExpr": "'' + datum.value", "labelFlush": false, "labelOverlap": false}},
        "y": {"field": "y", "type": "quantitative", "scale": {"type": "log", "domain": [1e-8, 0.4], "nice": false},
          "axis": {"title": "No of events", "titleFontSize": 21, "titlePadding": 12.5, "labelFontSize": 13.5, "labelPadding": 3, "tickSize": 4, "labelOverlap": false, "labelFlush": false,
            "values": [1e-8, 2e-8, 3e-8, 4e-8, 5e-8, 6e-8, 7e-8, 8e-8, 9e-8, 1e-7, 2e-7, 3e-7, 4e-7, 5e-7, 6e-7, 7e-7, 8e-7, 9e-7, 1e-6, 2e-6, 3e-6, 4e-6, 5e-6, 6e-6, 7e-6, 8e-6, 9e-6, 1e-5, 2e-5, 3e-5, 4e-5, 5e-5, 6e-5, 7e-5, 8e-5, 9e-5, 1e-4, 2e-4, 3e-4, 4e-4, 5e-4, 6e-4, 7e-4, 8e-4, 9e-4, 0.001, 0.002, 0.003, 0.004, 0.005, 0.006, 0.007, 0.008, 0.009, 0.01, 0.02, 0.03, 0.04, 0.05, 0.06, 0.07, 0.08, 0.09, 0.1, 0.2, 0.3],
            "labelExpr": "abs(log(datum.value)/LN10 - round(log(datum.value)/LN10)) > 0.01 ? '' : (round(log(datum.value)/LN10) == -1 ? '0.1' : (round(log(datum.value)/LN10) == -2 ? '0.01' : '1E' + round(log(datum.value)/LN10)))"}}
      },
      "layer": [
        {
          "data": {"name": "b"},
          "transform": [{"filter": "datum.s === 'Cross'"}],
          "mark": {"type": "line", "strokeWidth": 1, "color": "magenta", "clip": true}
        },
        {
          "data": {"name": "b"},
          "transform": [{"filter": "datum.s === 'Three sisters'"}],
          "mark": {"type": "line", "strokeWidth": 1, "color": "black", "clip": true}
        },
        {
          "data": {"name": "b"},
          "transform": [{"filter": "datum.s === 'Solitary'"}],
          "mark": {"type": "line", "strokeWidth": 1, "color": "blue", "clip": true}
        },
        {
          "data": {"name": "b"},
          "transform": [{"filter": "datum.s === 'Twins'"}],
          "mark": {"type": "line", "strokeWidth": 1, "color": "red", "clip": true}
        },
        {
          "data": {"name": "b"},
          "mark": {"type": "point", "filled": true, "opacity": 1, "size": 45, "clip": true},
          "encoding": {
            "color": {"field": "s", "type": "nominal", "scale": {"domain": ["Solitary", "Twins", "Three sisters", "Cross"], "range": ["blue", "red", "black", "magenta"]},
              "legend": {"title": null, "orient": "none", "legendX": 255, "legendY": 2.5, "labelFontSize": 15, "labelLimit": 0, "symbolSize": 64, "labelOffset": 15, "rowPadding": 2.8}},
            "shape": {"field": "s", "type": "nominal", "scale": {"domain": ["Solitary", "Twins", "Three sisters", "Cross"], "range": ["circle", "M0,-1.25L0.294,-0.405L1.189,-0.386L0.475,0.155L0.735,1.011L0,0.5L-0.735,1.011L-0.475,0.155L-1.189,-0.386L-0.294,-0.405Z", "square", "triangle-up"]},
              "legend": {"title": null, "orient": "none", "legendX": 255, "legendY": 2.5, "labelFontSize": 15, "labelLimit": 0, "symbolSize": 64, "labelOffset": 15, "rowPadding": 2.8}}
          }
        },
        {
          "data": {"values": [{"x": 8, "y": 3.5e-3, "y2": 1e-8}]},
          "mark": {"type": "rule", "color": "#222", "strokeWidth": 1, "strokeDash": [7, 2, 1.5, 2]},
          "encoding": {"y2": {"field": "y2"}}
        },
        {
          "data": {"values": [{"x": 8.16, "y": 9.5e-4, "t": "RW threshold=8σ"}]},
          "mark": {"type": "text", "align": "left", "baseline": "alphabetic", "fontSize": 16, "color": "black"},
          "encoding": {"text": {"field": "t"}}
        },
        {
          "data": {"values": [{"x": -9.78, "y": 0.125, "t": "B"}]},
          "mark": {"type": "text", "align": "left", "baseline": "alphabetic", "fontSize": 25, "fontWeight": "bold", "color": "black", "clip": false},
          "encoding": {"text": {"field": "t"}}
        },
        {
          "data": {"values": [{"x": 11.37, "y": 7.8e-4, "x2": 8.3, "y2": 2.35e-4}]},
          "mark": {"type": "rule", "color": "#222", "strokeWidth": 1},
          "encoding": {"x2": {"field": "x2"}, "y2": {"field": "y2"}}
        },
        {
          "data": {"values": [{"x": 8.45, "y": 2.45e-4}]},
          "mark": {"type": "point", "shape": "triangle-up", "angle": 247, "size": 22, "filled": true, "color": "#222", "opacity": 1}
        }
      ]
    }
  ]
}
